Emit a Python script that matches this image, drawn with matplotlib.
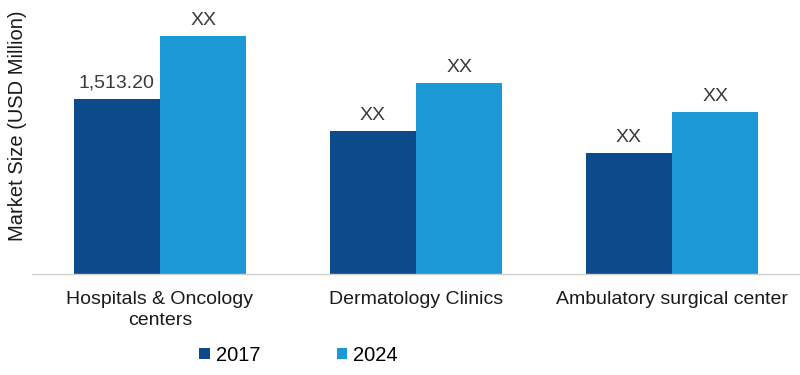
import numpy as np
import matplotlib.pyplot as plt

plt.rcParams['font.family'] = ['Liberation Sans', 'DejaVu Sans']

categories = ['Hospitals & Oncology\ncenters', 'Dermatology Clinics', 'Ambulatory surgical center']
years = ['2017', '2024']
values_2017 = [1513.20, 1234, 1044]
values_2024 = [2054, 1649, 1398]
labels_2017 = ['1,513.20', 'XX', 'XX']
labels_2024 = ['XX', 'XX', 'XX']

c2017 = '#0d4a8c'
c2024 = '#1b98d5'
txt = '#3a3a3a'

fig = plt.figure(figsize=(8, 3.75), dpi=100)
ax = fig.add_axes([0.04, 0.2693, 0.96, 0.7307])

x = np.arange(len(categories))
w = 0.337
b1 = ax.bar(x - w / 2, values_2017, w, color=c2017, label=years[0])
b2 = ax.bar(x + w / 2, values_2024, w, color=c2024, label=years[1])

for bars, labs in [(b1, labels_2017), (b2, labels_2024)]:
    for r, lab in zip(bars, labs):
        ax.annotate(lab, (r.get_x() + r.get_width() / 2, r.get_height()),
                    xytext=(0, 5), textcoords='offset points',
                    ha='center', va='bottom', fontsize=14, color=txt)

ax.set_xlim(-0.5, 2.5)
ax.set_ylim(0, 2365)
ax.set_xticks(x)
ax.set_xticklabels(categories, fontsize=14, color='#1a1a1a', linespacing=1.35)
ax.tick_params(axis='x', length=0, pad=12)
ax.set_yticks([])
for s in ['top', 'right', 'left']:
    ax.spines[s].set_visible(False)
ax.spines['bottom'].set_color('#d0d0d0')
ax.spines['bottom'].set_linewidth(1)

fig.text(0.022, 0.665, 'Market Size (USD Million)', rotation=90, ha='center',
         va='center', fontsize=14.5, color='#1a1a1a')

fig.legend(loc='center', bbox_to_anchor=(0.373, 0.053), ncol=2, frameon=False,
           fontsize=14.5, handlelength=0.5, handleheight=0.5, handletextpad=0.3,
           columnspacing=3.8)

plt.savefig('out.png', dpi=100)
